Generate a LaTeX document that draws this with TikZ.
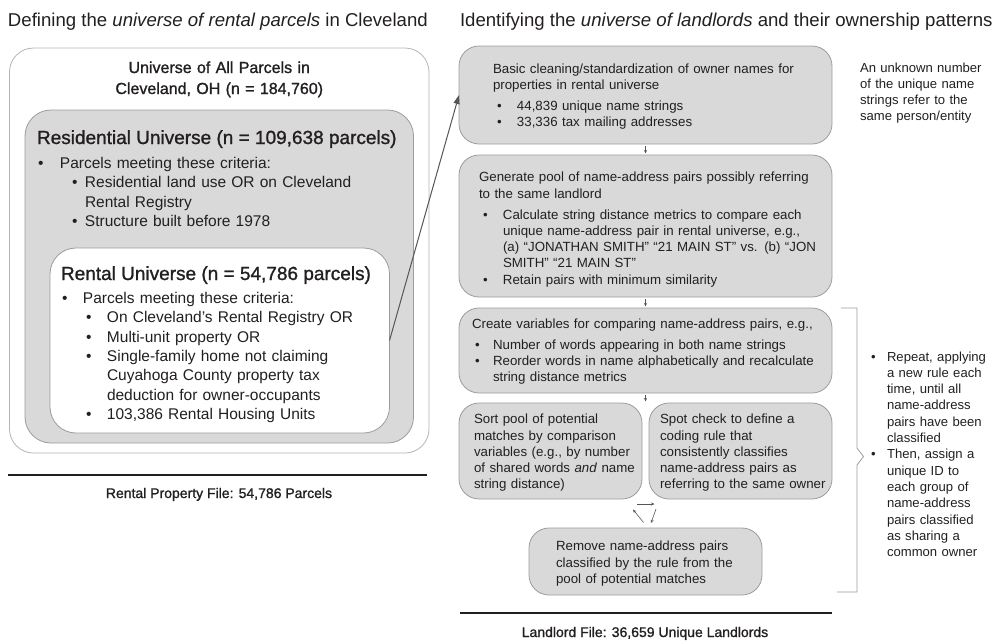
\documentclass[tikz,border=0pt]{standalone}
\usepackage{fontspec}
\setmainfont{Liberation Sans}
\newfontfamily\medfont[FakeBold=1.2]{Liberation Sans}
\usetikzlibrary{arrows.meta}
\definecolor{boxgray}{HTML}{D9D9D9}
\definecolor{edgegray}{HTML}{9C9C9C}
\definecolor{lightedge}{HTML}{B4B4B4}
\definecolor{txt}{HTML}{231F20}
\definecolor{arrowgray}{HTML}{555555}
\newcommand{\myb}[2]{\hspace*{#1}\makebox[#2][l]{\textbullet}}
\newcommand{\myc}[1]{\hspace*{#1}}
\begin{document}
\begin{tikzpicture}[x=1pt,y=-1pt,
  every node/.style={inner sep=0pt, outer sep=0pt, text=txt},
  outerbox/.style={rectangle, draw=lightedge, line width=0.8pt, fill=white, rounded corners=24pt},
  resbox/.style={rectangle, draw=edgegray, line width=0.8pt, fill=boxgray, rounded corners=26pt},
  rentbox/.style={rectangle, draw=edgegray, line width=0.8pt, fill=white, rounded corners=26pt},
  stepbox/.style={rectangle, draw=edgegray, line width=0.8pt, fill=boxgray, rounded corners=20pt},
  headtext/.style={anchor=base west, font=\fontsize{18.6}{22}\selectfont},
  lefttext/.style={anchor=base west, text width=380pt, font=\fontsize{15.5}{19.3}\selectfont},
  righttext/.style={anchor=base west, text width=370pt, font=\fontsize{13.3}{16.2}\selectfont},
  notetext/.style={anchor=base west, text width=140pt, font=\fontsize{13.1}{16.3}\selectfont},
  medtitle/.style={font=\medfont\fontsize{19}{22}\selectfont},
  filelabel/.style={anchor=base, font=\medfont\fontsize{14}{17}\selectfont},
  bigarrow/.style={draw=arrowgray, line width=1pt, -{Triangle[length=9pt,width=6pt]}},
  smallarrow/.style={draw=arrowgray, line width=0.6pt, -{Stealth[length=3.5pt,width=3pt]}},
  rule/.style={line width=1.8pt, draw=txt}
]
\useasboundingbox (0,0) rectangle (1000,640);

% ---------- headings ----------
\node[headtext] (hl) at (8,26.7) {Defining the \textit{universe of rental parcels} in Cleveland};
\node[headtext] (hr) at (460,26.7) {Identifying the \textit{universe of landlords} and their ownership patterns};

% ---------- left nested boxes ----------
\node[outerbox, minimum width=419.5pt, minimum height=405pt] (outer) at (219.25,250.5) {};
\node[anchor=base, text width=300pt, align=center, font=\medfont\fontsize{16}{21}\selectfont] (outert) at (219.25,73)
  {Universe of All Parcels in\\Cleveland, OH (n = 184,760)};
\node[resbox, minimum width=388.5pt, minimum height=333pt] (res) at (219.25,276.5) {};
\node[anchor=base west, medtitle] (rest) at (37,144) {Residential Universe (n = 109,638 parcels)};
\node[lefttext] (resb) at (38,168.6) {%
  \myb{0pt}{22pt}Parcels meeting these criteria:\\
  \myb{34pt}{13pt}Residential land use OR on Cleveland\\
  \myc{47pt}Rental Registry\\
  \myb{34pt}{13pt}Structure built before 1978};
\node[rentbox, minimum width=339.5pt, minimum height=185pt] (rent) at (219.75,340.5) {};
\node[anchor=base west, medtitle] (rentt) at (61,280) {Rental Universe (n = 54,786 parcels)};
\node[lefttext] (rentb) at (62,303.6) {%
  \myb{0pt}{21pt}Parcels meeting these criteria:\\
  \myb{24pt}{21pt}On Cleveland’s Rental Registry OR\\
  \myb{24pt}{21pt}Multi-unit property OR\\
  \myb{24pt}{21pt}Single-family home not claiming\\
  \myc{45pt}Cuyahoga County property tax\\
  \myc{45pt}deduction for owner-occupants\\
  \myb{24pt}{21pt}103,386 Rental Housing Units};

\draw[rule] (8,475) -- (427,475);
\node[filelabel] (rpf) at (219,498) {Rental Property File: 54,786 Parcels};

% ---------- right flow boxes ----------
\node[stepbox, minimum width=373pt, minimum height=98pt] (b1) at (645.5,95) {};
\node[righttext] (b1t) at (493,73.8) {%
  Basic cleaning/standardization of owner names for\\[-0.7pt]
  properties in rental universe\\[5pt]
  \myb{4pt}{20pt}44,839 unique name strings\\[-0.7pt]
  \myb{4pt}{20pt}33,336 tax mailing addresses};

\node[stepbox, minimum width=373pt, minimum height=142pt] (b2) at (645.5,226) {};
\node[righttext] (b2t) at (479,181.8) {%
  Generate pool of name-address pairs possibly referring\\
  to the same landlord\\[5pt]
  \myb{4pt}{20pt}Calculate string distance metrics to compare each\\
  \myc{24pt}unique name-address pair in rental universe, e.g.,\\
  \myc{24pt}(a) “JONATHAN SMITH” “21 MAIN ST” vs. (b) “JON\\
  \myc{24pt}SMITH” “21 MAIN ST”\\
  \myb{4pt}{20pt}Retain pairs with minimum similarity};

\node[stepbox, minimum width=373pt, minimum height=85pt] (b3) at (645.5,350.5) {};
\node[righttext] (b3t) at (472,328.8) {%
  Create variables for comparing name-address pairs, e.g.,\\[4pt]
  \myb{3pt}{18pt}Number of words appearing in both name strings\\
  \myb{3pt}{18pt}Reorder words in name alphabetically and recalculate\\
  \myc{21pt}string distance metrics};

\node[stepbox, minimum width=183pt, minimum height=96pt] (b4a) at (550.5,451) {};
\node[righttext] (b4at) at (474,423.8) {%
  Sort pool of potential\\
  matches by comparison\\
  variables (e.g., by number\\
  of shared words \textit{and} name\\
  string distance)};

\node[stepbox, minimum width=183pt, minimum height=96pt] (b4b) at (740.5,451) {};
\node[righttext] (b4bt) at (660,423.8) {%
  Spot check to define a\\
  coding rule that\\
  consistently classifies\\
  name-address pairs as\\
  referring to the same owner};

\node[stepbox, minimum width=233pt, minimum height=67pt] (b5) at (645.5,561.5) {};
\node[righttext] (b5t) at (556,550.8) {%
  Remove name-address pairs\\
  classified by the rule from the\\
  pool of potential matches};

\draw[rule] (460,613) -- (832,613);
\node[filelabel] (llf) at (645,637) {Landlord File: 36,659 Unique Landlords};

% ---------- side notes ----------
\node[notetext] (note1) at (860,72) {%
  An unknown number\\
  of the unique name\\
  strings refer to the\\
  same person/entity};

\draw[draw=edgegray, line width=0.8pt] (841,308) -- (857,308) -- (857,448) -- (863.5,456.5) -- (857,465) -- (857,592) -- (837,592);

\node[notetext] (note2) at (871,361) {%
  \makebox[16pt][l]{\textbullet}Repeat, applying\\
  \myc{16pt}a new rule each\\
  \myc{16pt}time, until all\\
  \myc{16pt}name-address\\
  \myc{16pt}pairs have been\\
  \myc{16pt}classified\\
  \makebox[16pt][l]{\textbullet}Then, assign a\\
  \myc{16pt}unique ID to\\
  \myc{16pt}each group of\\
  \myc{16pt}name-address\\
  \myc{16pt}pairs classified\\
  \myc{16pt}as sharing a\\
  \myc{16pt}common owner};

% ---------- connectors ----------
\draw[bigarrow] (rent.east) -- (b1.west);
\draw[smallarrow, shorten <=2pt, shorten >=1.5pt] (b1.south) -- (b2.north);
\draw[smallarrow, shorten <=2pt, shorten >=1.5pt] (b2.south) -- (b3.north);
\draw[smallarrow, shorten <=2pt, shorten >=1.5pt] (b3.south) -- (b3.south |- b4a.north);

\coordinate (ta1) at (637,504);
\coordinate (ta2) at (654.5,504);
\coordinate (tb1) at (656,509);
\coordinate (tb2) at (651,523);
\coordinate (tc1) at (643.5,522.5);
\coordinate (tc2) at (633,509.5);
\draw[smallarrow] (ta1) -- (ta2);
\draw[smallarrow] (tb1) -- (tb2);
\draw[smallarrow] (tc1) -- (tc2);
\end{tikzpicture}
\end{document}
